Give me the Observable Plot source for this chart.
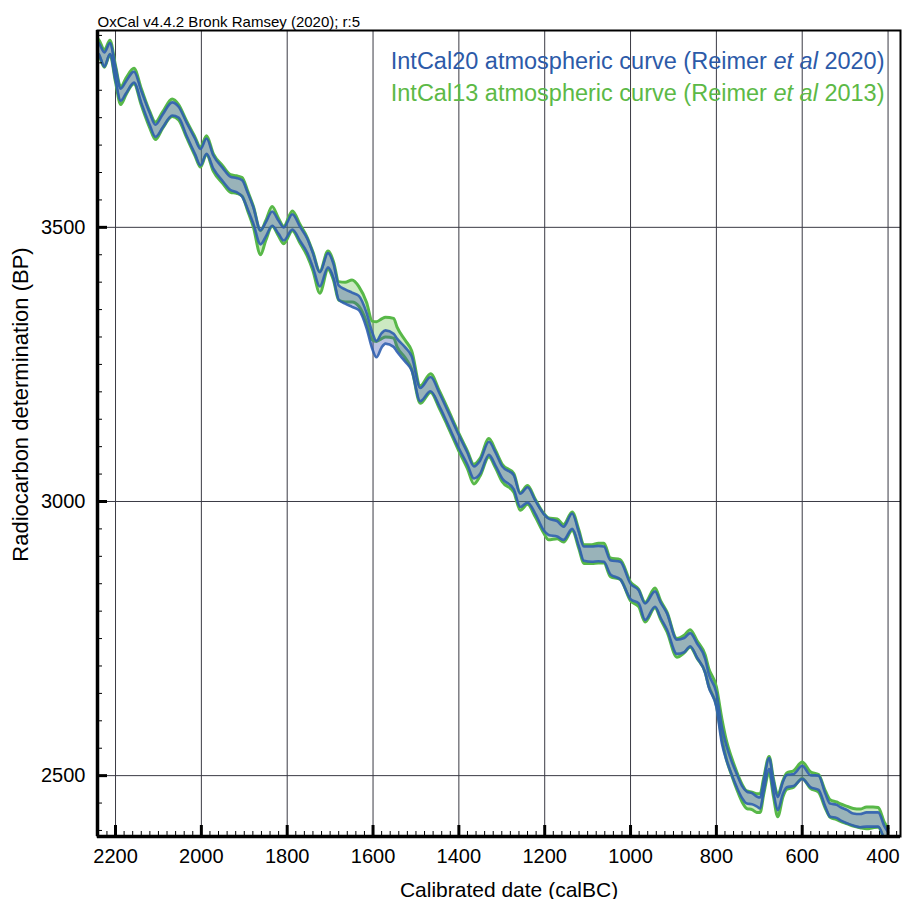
<!DOCTYPE html>
<html><head><meta charset="utf-8">
<script src="https://cdn.jsdelivr.net/npm/d3@7"></script>
<script src="https://cdn.jsdelivr.net/npm/@observablehq/plot@0.6"></script>
<style>body{margin:0;background:#fff;} svg{display:block}</style>
</head><body><div id="chart"></div>
<script>
// Calibrated years (calBC)
const years = [2242,2239,2226,2213,2200,2188,2175,2157,2140,2120,2107,2090,2068,2053,2035,2015,2002,1988,1972,1950,1932,1918,1905,1892,1879,1862,1850,1835,1820,1808,1788,1770,1753,1740,1724,1705,1692,1680,1665,1649,1633,1615,1602,1592,1580,1571,1552,1544,1525,1510,1490,1466,1445,1427,1400,1380,1365,1351,1330,1315,1299,1272,1257,1240,1222,1202,1191,1171,1156,1136,1120,1109,1090,1075,1062,1047,1024,1000,981,966,943,930,915,892,875,861,845,826,818,800,787,776,765,753,740,729,717,706,698,690,677,667,657,645,636,620,600,581,562,546,535,520,512,495,481,465,450,435,423,408,400];
// IntCal20 mean and 1-sigma (BP)
const ic20Mean = [3828,3826,3806,3826,3780,3742,3756,3774,3738,3697,3676,3694,3716,3710,3680,3648,3628,3648,3619,3596,3580,3577,3571,3548,3522,3482,3496,3516,3500,3488,3510,3488,3466,3440,3405,3440,3420,3381,3374,3368,3362,3330,3294,3278,3294,3300,3294,3285,3268,3252,3195,3214,3185,3155,3109,3078,3053,3062,3097,3078,3053,3035,3002,3012,2990,2962,2954,2950,2942,2964,2930,2905,2904,2905,2904,2880,2874,2836,2826,2799,2822,2802,2781,2735,2738,2748,2728,2700,2674,2638,2573,2540,2515,2492,2470,2460,2458,2453,2450,2480,2522,2480,2449,2478,2490,2492,2506,2490,2487,2455,2437,2435,2431,2425,2420,2418,2420,2420,2420,2395,2385];
const ic20Sigma = [10,10,13,10,12,11,11,10,11,11,11,12,12,10,12,14,15,14,12,12,12,13,15,15,15,13,13,13,12,12,14,13,13,13,13,13,13,13,13,13,13,14,15,15,13,12,12,12,13,13,12,13,12,12,12,11,11,12,12,12,11,13,12,14,12,15,15,14,12,14,13,13,14,14,14,13,16,14,12,15,14,14,15,13,13,12,13,13,12,13,15,13,12,12,11,11,10,9,10,10,10,11,12,11,11,11,12,11,13,12,12,12,12,12,11,12,13,13,13,12,12];
// IntCal13 mean and 1-sigma (BP)
const ic13Mean = [3830,3828,3808,3828,3780,3740,3758,3776,3738,3696,3676,3696,3718,3710,3680,3648,3628,3650,3618,3596,3580,3578,3574,3548,3520,3472,3494,3520,3500,3486,3512,3488,3464,3438,3400,3440,3420,3384,3382,3384,3374,3345,3312,3310,3315,3318,3316,3300,3278,3258,3195,3216,3185,3155,3108,3076,3050,3062,3098,3078,3052,3034,3000,3012,2988,2960,2950,2950,2942,2964,2930,2904,2904,2906,2906,2880,2876,2836,2824,2798,2824,2802,2780,2733,2740,2750,2730,2704,2680,2645,2585,2545,2518,2492,2468,2456,2454,2450,2450,2480,2520,2478,2445,2476,2490,2494,2510,2492,2486,2456,2440,2436,2433,2428,2424,2422,2423,2424,2424,2398,2388];
const ic13Sigma = [14,14,16,13,15,16,15,14,15,15,16,15,16,14,15,17,18,17,16,16,16,16,17,18,19,22,18,18,16,16,18,17,17,17,20,17,17,17,18,20,18,18,17,18,18,18,18,18,16,17,16,17,16,16,16,16,18,16,17,16,16,17,16,17,16,18,20,18,16,17,17,17,17,18,18,17,18,17,16,18,18,17,18,17,16,16,16,16,16,17,18,17,16,16,16,16,16,17,17,15,15,16,20,15,15,15,15,15,16,16,16,16,16,16,16,17,20,19,18,16,16];

const xMajorTicks = [2200,2000,1800,1600,1400,1200,1000,800,600,400];
const xMinorTicks = d3.range(2240, 370, -20);
const yMajorTicks = [2500,3000,3500];
const yMinorTicks = d3.range(2400, 3860, 50);
const xDomain = [2242, 371];
const yDomain = [2389, 3859];

const titleText = "OxCal v4.4.2 Bronk Ramsey (2020); r:5";
const legendLabels = ["IntCal20 atmospheric curve (Reimer et al 2020)", "IntCal13 atmospheric curve (Reimer et al 2013)"];
const xLabel = "Calibrated date (calBC)";
const yLabel = "Radiocarbon determination (BP)";

const blue = "#2f5fb0", green = "#58b848";
const rows = years.map((yr, i) => ({
  year: yr,
  lo20: ic20Mean[i] - ic20Sigma[i], hi20: ic20Mean[i] + ic20Sigma[i],
  lo13: ic13Mean[i] - ic13Sigma[i], hi13: ic13Mean[i] + ic13Sigma[i]
}));

const gridStyle = {stroke: "#3a3a44", strokeOpacity: 1, strokeWidth: 1};
const crv = "monotone-x";
const lastLabel = xMajorTicks[xMajorTicks.length - 1];

const chart = Plot.plot({
  width: 903, height: 899,
  marginLeft: 97, marginRight: 3, marginTop: 30, marginBottom: 63,
  x: {type: "linear", domain: xDomain},
  y: {type: "linear", domain: yDomain},
  style: {fontFamily: "'Liberation Sans', Arial, sans-serif", background: "#fff", color: "#000"},
  marks: [
    Plot.gridX(xMajorTicks, gridStyle),
    Plot.gridY(yMajorTicks, gridStyle),
    Plot.areaY(rows, {x: "year", y1: "lo13", y2: "hi13", curve: crv, fill: "#6cbf4f", fillOpacity: 0.35, clip: true}),
    Plot.line(rows, {x: "year", y: "hi13", curve: crv, stroke: green, strokeWidth: 3, clip: true}),
    Plot.line(rows, {x: "year", y: "lo13", curve: crv, stroke: green, strokeWidth: 3, clip: true}),
    Plot.areaY(rows, {x: "year", y1: "lo20", y2: "hi20", curve: crv, fill: "#3a4fa8", fillOpacity: 0.35, clip: true}),
    Plot.line(rows, {x: "year", y: "hi20", curve: crv, stroke: blue, strokeOpacity: 0.9, strokeWidth: 2.6, clip: true}),
    Plot.line(rows, {x: "year", y: "lo20", curve: crv, stroke: blue, strokeOpacity: 0.9, strokeWidth: 2.6, clip: true}),
    Plot.frame({stroke: "#000", strokeWidth: 2}),
    Plot.ruleX([xDomain[0]], {stroke: "#000", strokeWidth: 3.5}),
    Plot.ruleY([yDomain[0]], {stroke: "#000", strokeWidth: 3.5}),
    Plot.axisX(xMinorTicks, {anchor: "bottom", tickSize: -5, strokeWidth: 1, tickFormat: () => "", label: null}),
    Plot.axisX(xMajorTicks, {anchor: "bottom", tickSize: -11, strokeWidth: 3, tickFormat: () => "", label: null}),
    Plot.axisX(xMajorTicks.filter(d => d !== lastLabel), {anchor: "bottom", tickSize: 0, tickPadding: 12, fontSize: 20, tickFormat: d => String(d), label: null}),
    Plot.axisX([lastLabel], {anchor: "bottom", tickSize: 0, tickPadding: 12, dx: -5, fontSize: 20, tickFormat: d => String(d), label: null}),
    Plot.axisY(yMinorTicks, {anchor: "left", tickSize: -5, strokeWidth: 1, tickFormat: () => "", label: null}),
    Plot.axisY(yMajorTicks, {anchor: "left", tickSize: -10, strokeWidth: 3, tickFormat: () => "", label: null}),
    Plot.axisY(yMajorTicks, {anchor: "left", tickSize: 0, tickPadding: 12, fontSize: 20, tickFormat: d => String(d), label: null}),
    Plot.text([titleText], {frameAnchor: "top-left", text: d => d, textAnchor: "start", lineAnchor: "bottom", dy: -4, fontSize: 15, fill: "#000"}),
    Plot.text([legendLabels[0]], {frameAnchor: "top-right", text: d => d, textAnchor: "end", lineAnchor: "bottom", dx: -16, dy: 38, fontSize: 23.5, fill: "#2c5aa8"}),
    Plot.text([legendLabels[1]], {frameAnchor: "top-right", text: d => d, textAnchor: "end", lineAnchor: "bottom", dx: -16, dy: 70, fontSize: 23.5, fill: "#5cb946"}),
    Plot.text([yLabel], {frameAnchor: "left", text: d => d, textAnchor: "middle", rotate: -90, dx: -77, dy: -29, fontSize: 22, fill: "#000"}),
    Plot.text([xLabel], {frameAnchor: "bottom", text: d => d, textAnchor: "middle", lineAnchor: "bottom", dx: 10, dy: 60, fontSize: 21, fill: "#000"})
  ]
});

// italicise "et al" in the legend texts
d3.select(chart).selectAll("text").each(function() {
  const t = this.textContent;
  if (t.includes(" et al ") && this.children.length === 0) {
    const i = t.indexOf("et al");
    const sel = d3.select(this);
    sel.text(null);
    sel.append("tspan").text(t.slice(0, i));
    sel.append("tspan").attr("font-style", "italic").text("et al");
    sel.append("tspan").text(t.slice(i + 5));
  }
});

document.getElementById("chart").appendChild(chart);
</script>
</body></html>
